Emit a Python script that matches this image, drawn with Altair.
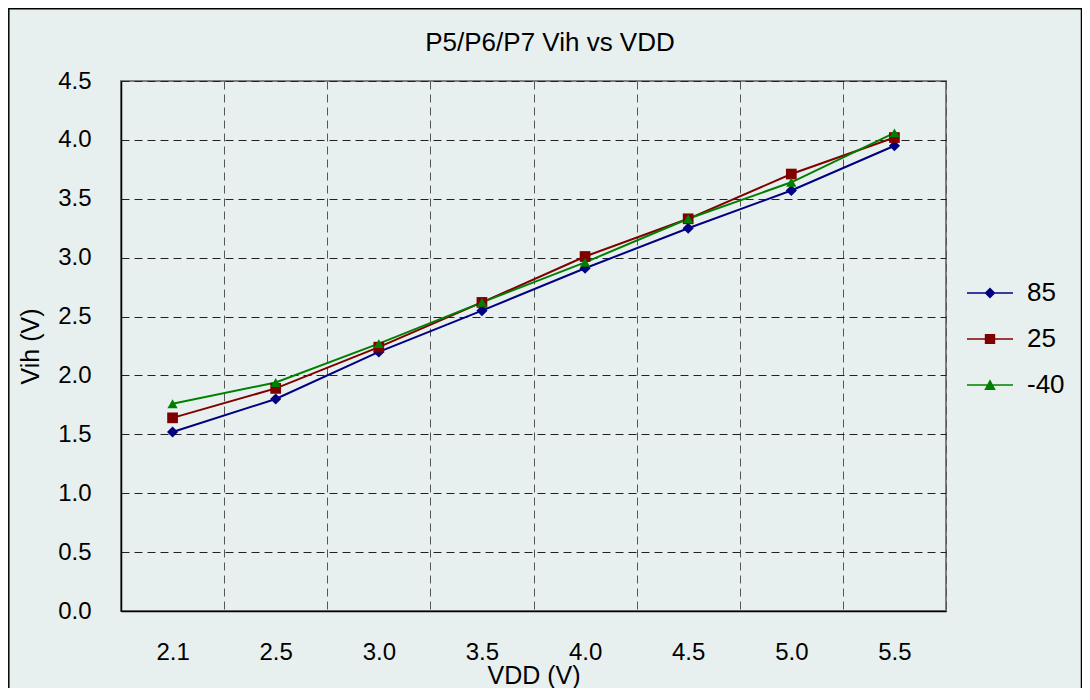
import altair as alt
import pandas as pd

# ---- data ----
vdd = ["2.1", "2.5", "3.0", "3.5", "4.0", "4.5", "5.0", "5.5"]
series_names = ["85", "25", "-40"]
v85 = [1.52, 1.80, 2.20, 2.55, 2.91, 3.25, 3.57, 3.95]
v25 = [1.64, 1.89, 2.24, 2.62, 3.01, 3.33, 3.71, 4.02]
vm40 = [1.76, 1.94, 2.27, 2.62, 2.96, 3.33, 3.64, 4.06]
y_ticks = [0.0, 0.5, 1.0, 1.5, 2.0, 2.5, 3.0, 3.5, 4.0, 4.5]
title_text = "P5/P6/P7 Vih vs VDD"

colors = ["#000080", "#800000", "#008000"]
shapes = ["diamond", "square", "triangle-up"]
sizes = [125, 105, 140]
# legend symbols: a thin bar (line) plus the marker
legend_shapes = [
    "M-4.2,-0.15H4.2V0.15H-4.2Z M0,-1L1,0L0,1L-1,0Z",
    "M-4.2,-0.15H4.2V0.15H-4.2Z M-0.95,-0.9H0.95V0.9H-0.95Z",
    "M-4.2,-0.15H4.2V0.15H-4.2Z M0,-1.05L1.05,0.9L-1.05,0.9Z",
]

rows = []
for name, vals in zip(series_names, [v85, v25, vm40]):
    for v, val in zip(vdd, vals):
        rows.append({"VDD": v, "Vih": val, "series": name})
df = pd.DataFrame(rows)

FONT = "Liberation Sans"
W, H = 825, 530

x_enc = alt.X(
    "VDD:O",
    sort=vdd,
    scale=alt.Scale(type="band", paddingInner=0, paddingOuter=0),
    axis=alt.Axis(
        tickBand="extent",
        grid=True,
        gridDash=[8, 5],
        gridColor="#555555",
        gridWidth=1,
        ticks=False,
        labelAngle=0,
        labelPadding=29,
        labelFontSize=24,
        labelFont=FONT,
        labelColor="#000000",
        domainColor="#000000",
        domainWidth=1.5,
        title="VDD (V)",
        titleFont=FONT,
        titleFontSize=25,
        titleFontWeight="normal",
        titleColor="#000000",
        titleY=72,
        titleBaseline="alphabetic",
    ),
)
y_enc = alt.Y(
    "Vih:Q",
    scale=alt.Scale(domain=[0, 4.5], nice=False),
    axis=alt.Axis(
        values=y_ticks,
        format=".1f",
        grid=True,
        gridDash=[8, 5],
        gridColor="#222222",
        gridWidth=1,
        ticks=False,
        labelPadding=30,
        labelFontSize=24,
        labelFont=FONT,
        labelColor="#000000",
        domainColor="#000000",
        domainWidth=1.5,
        title="Vih (V)",
        titleFont=FONT,
        titleFontSize=25,
        titleFontWeight="normal",
        titleColor="#000000",
        titleX=-91,
        titleY=H / 2,
        titleAngle=-90,
        titleAlign="center",
        titleBaseline="middle",
    ),
)

col_scale = alt.Scale(domain=series_names, range=colors)

base = alt.Chart(df)

lines = base.mark_line(strokeWidth=2).encode(
    x=x_enc,
    y=y_enc,
    color=alt.Color("series:N", scale=col_scale, legend=None),
    order=alt.Order("VDD:O"),
)

points = base.mark_point(filled=True, opacity=1).encode(
    x=x_enc,
    y=y_enc,
    color=alt.Color("series:N", scale=col_scale, legend=None),
    shape=alt.Shape("series:N", scale=alt.Scale(domain=series_names, range=shapes), legend=None),
    size=alt.Size("series:O", scale=alt.Scale(domain=series_names, range=sizes), legend=None),
)

legend_layer = base.transform_filter("false").mark_point(filled=True, opacity=1, size=120).encode(
    color=alt.Color(
        "series:N",
        scale=col_scale,
        title=None,
        legend=alt.Legend(
            orient="none",
            legendX=856,
            legendY=199,
            padding=0,
            labelFont=FONT,
            labelFontSize=26,
            labelColor="#000000",
            labelOffset=24,
            rowPadding=20,
            symbolStrokeWidth=0,
            symbolSize=120,
        ),
    ),
    shape=alt.Shape(
        "series:N",
        scale=alt.Scale(domain=series_names, range=legend_shapes),
        title=None,
    ),
)

title_layer = alt.Chart(pd.DataFrame({"t": [title_text]})).mark_text(
    font=FONT, fontSize=26, color="#000000", align="center", baseline="alphabetic"
).encode(text="t:N", x=alt.value(429), y=alt.value(-30))

frame = alt.Chart(pd.DataFrame({"t": [title_text]})).mark_rect(
    fill="transparent", stroke="#000000", strokeWidth=1.5
).encode(
    x=alt.value(-112.2),
    x2=alt.value(W + 135.5),
    y=alt.value(-72.2),
    y2=alt.value(H + 90),
)

chart = (
    alt.layer(frame, lines, points, legend_layer, title_layer)
    .resolve_scale(color="independent", shape="independent", size="independent")
    .properties(
        width=W,
        height=H,
        autosize=alt.AutoSizeParams(type="none"),
        padding={"left": 113, "top": 73, "right": 136, "bottom": 77},
        background="#e8f0ef",
    )
    .configure_view(fill="#ffffff", stroke="#808080", strokeWidth=2)
)

chart.save("out.html", embed_options={"renderer": "svg", "actions": False})
